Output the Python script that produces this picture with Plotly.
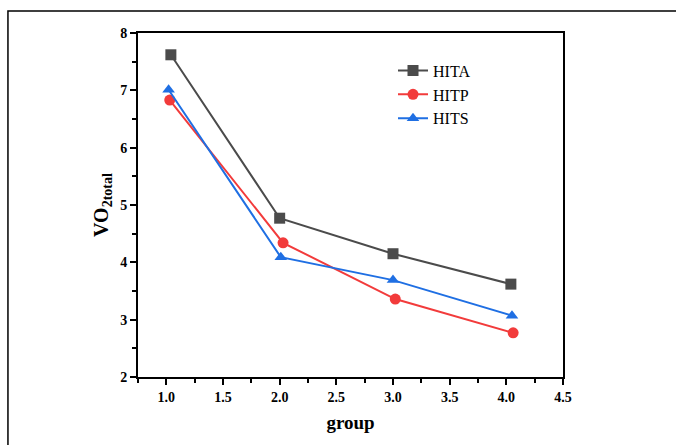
import plotly.graph_objects as go

# Series values (group position, VO2 total)
hita_x = [1.04, 2.0, 3.0, 4.04]
hita_y = [7.62, 4.77, 4.15, 3.62]
hitp_x = [1.03, 2.03, 3.02, 4.06]
hitp_y = [6.83, 4.34, 3.36, 2.77]
hits_x = [1.02, 2.01, 3.0, 4.05]
hits_y = [7.01, 4.09, 3.69, 3.07]

series_names = ["HITA", "HITP", "HITS"]
colors = ["#4b4b4b", "#f23b3b", "#1f6fe3"]
symbols = ["square", "circle", "triangle-up"]

FONT = "Liberation Serif"

fig = go.Figure()
for name, xs, ys, c, s in zip(series_names,
                              [hita_x, hitp_x, hits_x],
                              [hita_y, hitp_y, hits_y],
                              colors, symbols):
    fig.add_trace(go.Scatter(
        x=xs, y=ys, name=name, mode="lines+markers",
        line=dict(color=c, width=2),
        marker=dict(symbol=s, size=11, color=c),
    ))

axis_common = dict(
    showline=True, linecolor="black", linewidth=2, mirror=True,
    showgrid=False, zeroline=False,
    ticks="outside", ticklen=6, tickwidth=2, tickcolor="black",
    tickfont=dict(family=FONT, size=14, color="black", weight="bold"),
)

fig.update_xaxes(
    range=[0.75, 4.5], tick0=1.0, dtick=0.5, tickformat=".1f",
    minor=dict(ticks="outside", ticklen=4, tickwidth=2, tickcolor="black", dtick=0.25, tick0=0.75),
    title=dict(text="<b>group</b>", font=dict(family=FONT, size=19, color="black"), standoff=12),
    **axis_common,
)
fig.update_yaxes(
    range=[2, 8], tick0=2, dtick=1,
    minor=dict(ticks="outside", ticklen=4, tickwidth=2, tickcolor="black", dtick=0.5),
    title=dict(text="<b>VO<sub>2total</sub></b>", font=dict(family=FONT, size=20, color="black"), standoff=6),
    **axis_common,
)

# Outer frame around the figure
fig.add_shape(type="rect", xref="paper", yref="paper",
              x0=-0.306, x1=1.6, y0=-0.5, y1=1.064,
              line=dict(color="black", width=1.5), fillcolor="rgba(0,0,0,0)", layer="below")

fig.update_layout(
    width=676, height=445,
    margin=dict(l=138, r=113, t=33, b=68),
    paper_bgcolor="white", plot_bgcolor="white",
    showlegend=True,
    legend=dict(x=0.6, y=0.94, xanchor="left", yanchor="top",
                font=dict(family=FONT, size=16, color="black"),
                bgcolor="rgba(0,0,0,0)", itemwidth=30, tracegroupgap=0),
)

fig.write_html("out.html")
